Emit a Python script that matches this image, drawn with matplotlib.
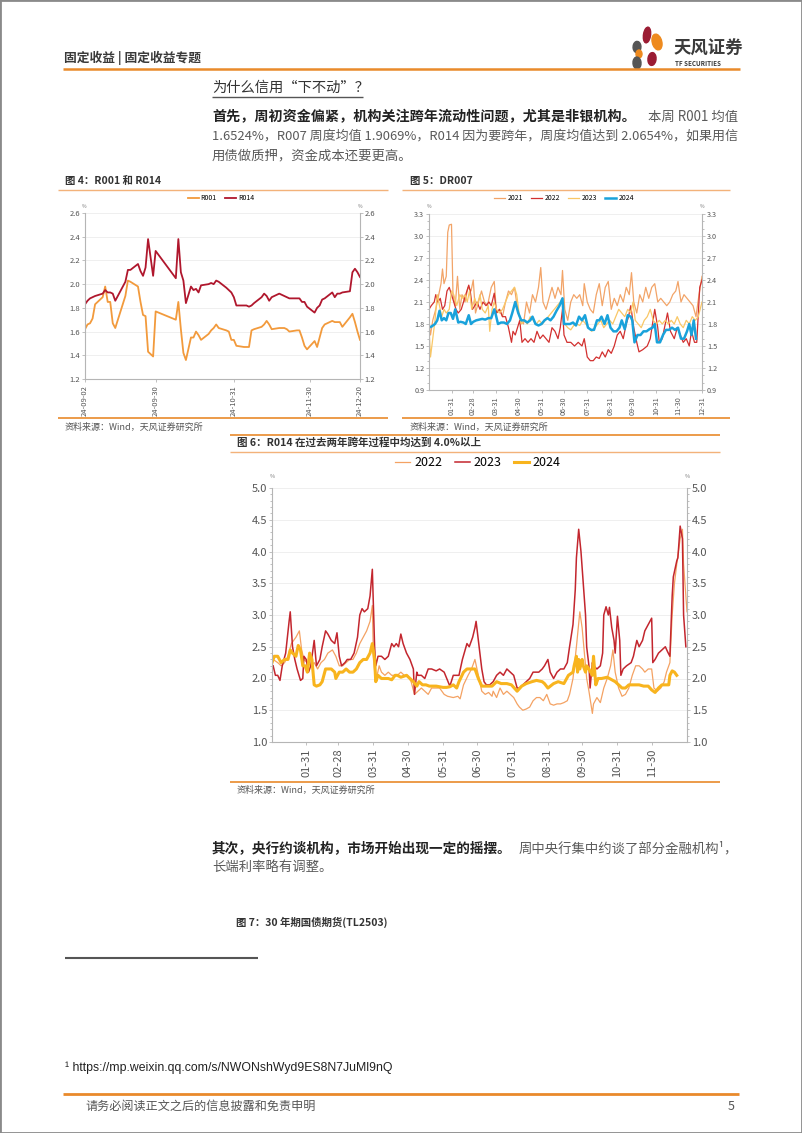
import matplotlib
matplotlib.use('Agg')
import matplotlib.pyplot as plt
from matplotlib.lines import Line2D
from matplotlib.patches import Ellipse, Rectangle
from matplotlib.ticker import MultipleLocator, FormatStrFormatter
import pandas as pd
import numpy as np

plt.rcParams['font.family'] = ['Noto Sans CJK SC', 'DejaVu Sans']
plt.rcParams['axes.unicode_minus'] = False

# ---------------- DATA ----------------
# Chart 4: R001 and R014 (2024 trading days)
dates4 = ['09-02','09-03','09-04','09-05','09-06','09-09','09-10','09-11','09-12','09-13','09-14',
          '09-18','09-19','09-20','09-23','09-24','09-25','09-26','09-27','09-29','09-30',
          '10-08','10-09','10-10','10-11','10-12','10-14','10-15','10-16','10-17','10-18',
          '10-21','10-22','10-23','10-24','10-25','10-28','10-29','10-30','10-31',
          '11-01','11-04','11-05','11-06','11-07','11-08','11-11','11-12','11-13','11-14','11-15',
          '11-18','11-19','11-20','11-21','11-22','11-25','11-26','11-27','11-28','11-29',
          '12-02','12-03','12-04','12-05','12-06','12-09','12-10','12-11','12-12','12-13',
          '12-16','12-17','12-18','12-19','12-20']
r001 = [1.62,1.66,1.67,1.71,1.83,1.89,1.98,1.85,1.85,1.67,1.63,
        1.90,2.03,2.02,1.98,1.85,1.74,1.73,1.43,1.39,1.77,
        1.70,1.85,1.62,1.42,1.36,1.55,1.55,1.60,1.57,1.53,
        1.58,1.61,1.63,1.66,1.63,1.61,1.60,1.53,1.53,
        1.48,1.47,1.47,1.47,1.61,1.62,1.64,1.66,1.69,1.66,1.62,
        1.63,1.63,1.63,1.62,1.60,1.61,1.61,1.55,1.48,1.45,
        1.52,1.47,1.55,1.63,1.66,1.69,1.68,1.68,1.68,1.64,
        1.72,1.75,1.68,1.60,1.53]
r014 = [1.83,1.86,1.88,1.89,1.90,1.92,1.95,1.93,1.93,1.92,1.86,
        2.02,2.12,2.12,2.17,2.11,2.07,2.14,2.38,2.07,2.28,
        2.05,2.38,2.10,2.03,1.84,1.98,1.95,1.96,1.93,1.99,
        2.00,2.01,2.00,2.03,2.02,1.97,1.95,1.93,1.89,
        1.82,1.82,1.82,1.81,1.82,1.84,1.89,1.92,1.90,1.86,1.89,
        1.92,1.91,1.90,1.89,1.88,1.88,1.88,1.85,1.85,1.81,
        1.76,1.80,1.82,1.87,1.88,1.93,1.89,1.92,1.92,1.93,
        1.94,2.10,2.13,2.10,2.06]
ticks4 = ['24-09-02', '24-09-30', '24-10-31', '24-11-30', '24-12-20']

# Chart 5: DR007 by day of year
dr21_day = [1,3,6,10,14,17,19,21,24,26,28,31,33,36,39,42,45,49,53,57,60,63,67,71,75,79,84,88,91,95,
            99,103,107,111,115,119,123,127,131,135,139,143,147,150,153,157,161,165,169,173,177,179,
            182,186,190,194,198,202,206,208,212,216,220,224,228,232,236,240,244,248,252,256,260,264,
            268,271,274,278,282,286,290,294,298,302,306,310,314,318,322,326,330,333,337,341,345,349,
            353,357,361,365]
dr21_val = [1.80,1.65,1.85,2.00,2.20,2.35,2.55,2.35,2.45,3.05,3.15,3.16,2.20,2.05,2.45,2.00,2.20,
            2.10,2.30,2.25,2.40,1.95,2.10,2.25,2.10,2.05,2.30,2.38,1.95,2.00,1.90,2.10,2.25,2.20,
            2.30,2.00,1.85,1.80,2.10,1.95,2.20,2.10,2.30,2.57,2.10,2.00,2.15,2.30,2.15,2.30,2.20,
            2.53,2.00,1.85,2.10,2.20,2.15,2.20,2.05,2.35,2.10,2.00,1.95,2.20,2.35,2.05,2.30,2.38,
            2.00,2.15,2.05,2.20,2.10,2.30,2.20,2.50,2.10,1.95,2.20,2.10,2.30,2.15,2.30,2.35,2.10,
            2.15,2.10,2.05,2.10,2.20,2.25,2.38,2.10,2.20,2.15,2.10,2.05,1.90,2.20,2.45]
dr22_day = [1,4,8,10,13,16,19,22,25,28,31,34,37,40,44,47,50,54,56,59,62,65,69,73,77,81,84,88,91,95,
            99,103,107,111,113,116,119,122,125,129,133,137,141,145,149,153,157,161,165,169,173,176,
            179,181,185,190,195,200,205,208,212,216,220,224,228,232,236,240,244,248,252,256,260,264,
            267,270,274,278,281,286,292,296,299,302,306,308,312,316,319,323,328,332,336,340,344,348,
            351,355,358,362,365]
dr22_val = [2.00,2.05,2.10,2.20,2.10,2.15,2.00,2.05,2.25,2.30,2.20,2.10,2.00,1.95,2.00,2.10,2.20,
            2.33,2.25,2.00,2.05,2.10,2.00,2.10,2.05,2.10,2.05,2.22,1.95,2.00,1.90,1.90,1.75,1.55,
            1.70,1.65,1.75,1.85,1.55,1.60,1.55,1.60,1.55,1.70,1.60,1.65,1.60,1.55,1.75,1.70,1.60,
            1.75,2.00,1.65,1.55,1.55,1.50,1.55,1.50,1.60,1.35,1.30,1.30,1.35,1.33,1.42,1.35,1.45,
            1.40,1.50,1.65,1.70,1.60,1.80,1.90,2.05,1.75,1.55,1.42,1.45,1.50,1.60,1.80,2.00,1.75,
            1.55,1.60,1.80,1.95,1.70,1.60,1.75,1.65,1.55,1.60,1.50,1.70,1.55,1.55,2.30,2.40]
dr23_day = [1,3,6,9,12,15,18,21,24,28,31,34,38,42,45,49,52,55,58,62,65,69,72,76,80,82,85,88,91,95,
            99,103,107,111,115,118,121,124,128,132,136,140,144,148,152,156,160,164,168,172,176,179,
            182,186,190,194,198,202,206,210,214,218,222,226,230,234,238,242,246,250,254,258,262,266,
            270,273,276,280,284,288,292,296,300,304,308,312,316,320,324,328,332,336,340,344,348,352,
            356,360,365]
dr23_val = [1.75,1.35,1.60,1.85,2.20,2.05,1.90,2.00,1.95,2.00,2.25,2.20,2.05,2.20,2.15,2.20,2.10,
            2.25,2.00,2.15,2.05,2.20,2.00,1.95,2.05,1.70,2.00,2.10,2.00,1.95,2.00,2.10,2.20,2.25,
            2.30,2.20,1.95,1.80,1.85,1.80,1.90,1.85,1.80,1.85,1.80,1.85,1.90,1.95,2.00,2.05,2.10,
            2.15,1.80,1.75,1.72,1.78,1.80,1.78,1.85,1.80,1.75,1.70,1.75,1.80,1.85,1.75,1.80,1.85,
            1.80,1.90,2.00,1.95,1.90,2.00,1.95,2.10,1.85,1.80,1.75,1.85,1.90,2.00,1.85,1.80,1.85,
            1.80,1.85,1.80,1.85,1.80,1.90,1.80,1.75,1.85,1.80,1.90,1.85,1.90,2.10]
dr24_day = [1,5,9,12,15,18,21,24,27,30,33,36,40,43,47,50,54,57,60,64,68,72,76,80,84,88,90,93,97,101,
            105,109,112,116,120,124,128,132,136,139,143,147,151,155,159,163,167,171,175,179,181,185,
            189,193,197,201,205,209,213,217,221,225,228,231,235,239,243,247,251,255,258,262,266,270,
            272,275,279,283,287,291,295,299,302,305,309,313,317,321,325,329,333,337,341,345,348,351,
            354,357]
dr24_val = [1.75,1.77,1.80,1.85,1.98,1.85,1.88,1.85,1.95,1.95,1.87,2.00,1.82,1.83,1.82,1.80,1.92,
            1.80,1.83,1.85,1.86,1.87,1.86,1.88,1.88,2.00,1.93,1.80,1.82,1.82,1.80,1.85,1.95,2.10,
            1.95,1.85,1.85,1.82,1.85,1.90,1.80,1.78,1.80,1.85,1.88,1.85,1.90,1.98,2.05,2.15,1.80,
            1.80,1.80,1.82,1.78,1.90,1.85,1.92,1.75,1.72,1.72,1.85,1.85,1.90,1.80,1.92,1.75,1.70,
            1.70,1.75,1.85,1.73,1.92,1.90,1.85,1.55,1.65,1.65,1.70,1.70,1.73,1.75,1.80,1.55,1.55,
            1.65,1.72,1.72,1.75,1.72,1.75,1.60,1.60,1.70,1.80,1.65,1.85,1.60]
ticks5 = ['01-31','02-28','03-31','04-30','05-31','06-30','07-31','08-31','09-30','10-31','11-30','12-31']

# Chart 6: R014 by day of year
r22_day = [2,6,9,12,15,18,22,25,27,29,32,35,38,41,44,47,50,54,57,60,63,66,69,72,75,78,81,84,87,89,
           90,92,95,97,100,103,106,109,111,114,117,120,123,126,129,132,135,138,141,144,148,152,155,
           160,164,166,169,173,176,179,182,185,188,191,194,195,198,201,204,207,210,213,216,218,221,
           224,227,230,233,236,239,242,245,248,251,254,257,260,262,265,268,271,273,275,277,279,282,
           283,286,289,292,295,298,300,302,305,308,311,314,317,320,323,326,328,331,334,336,339,342,
           345,347,350,352,354,356,359,361,362,365]
r22_val = [2.30,2.25,2.20,2.25,2.35,2.55,2.65,2.75,2.45,2.30,2.25,2.20,2.25,2.15,2.25,2.30,2.40,
           2.45,2.35,2.20,2.20,2.25,2.30,2.30,2.40,2.55,2.65,2.75,2.90,3.15,2.30,1.95,2.20,2.10,
           2.05,2.10,2.05,2.05,2.05,2.10,2.05,2.05,1.95,1.75,1.80,1.85,1.80,1.75,1.85,1.85,1.85,
           1.75,1.72,1.70,1.72,1.68,1.90,2.05,2.15,2.30,2.05,1.80,1.75,1.78,1.72,1.80,1.70,1.85,
           1.75,1.80,1.75,1.70,1.60,1.55,1.50,1.52,1.55,1.65,1.70,1.70,1.65,1.75,1.60,1.58,1.60,
           1.60,1.62,1.65,1.75,2.00,2.50,3.05,2.80,2.40,2.00,1.80,1.45,1.60,1.70,1.62,1.85,2.00,
           2.20,2.45,2.10,1.85,1.72,1.75,1.85,2.05,2.20,2.20,2.15,2.10,2.15,2.15,1.85,1.80,1.85,
           1.95,2.10,2.25,3.00,3.50,3.80,4.20,4.35,3.80,3.05]
r23_day = [2,4,6,8,10,13,16,17,19,21,23,26,28,29,31,33,35,38,40,43,45,48,50,53,56,58,60,62,65,67,
           70,73,76,78,80,82,85,87,89,91,92,94,97,100,103,106,108,110,112,114,116,119,122,125,126,
           128,129,132,135,138,141,145,148,152,157,160,163,165,168,172,174,177,179,180,183,185,187,
           189,192,195,198,201,204,207,210,213,216,218,221,224,227,230,235,238,240,243,245,248,251,
           254,257,260,262,265,267,268,270,272,274,276,277,279,280,282,283,286,289,291,292,294,296,
           297,299,301,302,304,306,307,309,312,316,318,321,323,326,328,331,334,335,337,340,343,346,
           348,350,352,353,356,357,359,361,362,364]
r23_val = [2.20,2.05,2.05,1.97,2.20,2.40,2.90,3.05,2.50,2.30,2.15,1.97,2.00,2.35,2.30,2.10,2.20,
           2.60,2.20,2.30,2.50,2.75,2.70,2.60,2.55,2.72,2.35,2.20,2.25,2.30,2.30,2.40,2.65,3.00,
           3.10,3.05,3.10,3.30,3.72,2.50,2.20,2.35,2.35,2.30,2.35,2.55,2.50,2.55,2.50,2.70,2.55,
           2.40,2.30,2.15,1.75,2.10,2.05,2.05,2.00,2.15,2.15,2.12,2.15,2.10,1.88,2.05,2.05,2.05,
           2.30,2.55,2.50,2.65,2.80,2.90,2.45,2.15,1.95,1.90,1.90,1.95,2.05,2.10,2.05,2.15,2.10,
           2.05,1.85,1.85,1.90,1.95,2.00,2.10,2.10,2.15,2.20,2.30,2.10,2.00,2.10,2.15,2.15,2.25,
           2.50,2.85,3.40,3.90,4.35,4.00,3.50,3.00,2.50,2.20,1.85,2.25,2.20,2.15,2.20,2.40,3.00,
           3.13,3.00,3.12,2.80,2.60,2.40,2.98,2.60,2.05,2.15,2.20,2.25,2.35,2.60,2.50,2.60,2.75,
           2.85,2.95,2.25,2.30,2.40,2.45,2.50,2.42,2.35,3.30,3.60,3.85,3.90,4.40,4.20,3.00,2.50]
r24_day = [1,3,6,9,12,15,17,19,22,24,26,28,30,32,34,36,38,40,43,45,48,50,53,56,57,60,63,66,69,72,
           75,78,81,84,87,89,91,92,94,97,100,103,106,109,111,114,119,122,125,128,130,133,136,139,
           142,145,148,151,154,157,160,163,165,169,172,176,179,182,185,189,194,198,202,207,211,216,
           220,224,229,233,238,240,243,248,252,257,261,265,266,268,269,270,271,273,274,276,277,279,
           282,283,285,287,290,295,299,302,305,308,311,314,318,323,327,331,334,337,340,343,346,349,
           350,352,354,356]
r24_val = [2.25,2.35,2.35,2.25,2.30,2.30,2.45,2.40,2.35,2.52,2.45,2.20,2.20,2.10,2.40,2.30,1.90,
           1.88,1.90,1.95,2.15,2.15,2.15,2.10,2.00,2.10,2.10,2.15,2.10,2.10,2.15,2.25,2.30,2.30,
           2.40,2.55,2.30,1.95,2.05,2.00,2.00,2.00,1.98,2.05,2.05,2.02,2.05,2.00,1.95,1.88,1.95,
           1.90,1.90,1.88,1.88,1.88,1.87,1.86,1.86,1.87,1.90,1.85,1.95,2.10,2.15,2.15,2.15,2.00,
           1.88,1.88,1.88,1.95,1.92,1.92,1.90,1.80,1.88,1.92,1.95,1.97,1.95,1.92,1.85,1.92,1.95,
           1.92,2.05,2.10,2.20,2.35,2.10,2.30,2.15,2.30,2.20,2.10,2.20,2.15,2.05,2.35,1.90,2.00,
           2.00,2.02,1.98,1.95,1.90,1.85,1.85,1.90,1.90,1.90,1.88,1.88,1.82,1.78,1.85,1.90,1.90,
           1.90,2.05,2.12,2.10,2.05]
ticks6 = ['01-31','02-28','03-31','04-30','05-31','06-30','07-31','08-31','09-30','10-31','11-30']

# ---------------- FIGURE ----------------
W, H = 802, 1133
fig = plt.figure(figsize=(W / 100, H / 100), dpi=100)
fig.patch.set_facecolor('white')
renderer = fig.canvas.get_renderer()

ORANGE = '#E98A2B'
TXT = '#333333'
GREY = '#5a5a5a'


def fx(x):
    return x / W


def fy(y):
    return 1 - y / H


def T(x, y, s, **kw):
    kw.setdefault('va', 'center')
    kw.setdefault('color', TXT)
    return fig.text(fx(x), fy(y), s, **kw)


def width_px(t):
    return t.get_window_extent(renderer=renderer).width


def fit(t, target):
    """Shrink/grow the font of text t so its width equals target pixels."""
    w = width_px(t)
    t.set_fontsize(t.get_fontsize() * target / w)


def hline(x0, x1, y, color, lw=1.0):
    fig.add_artist(Line2D([fx(x0), fx(x1)], [fy(y), fy(y)], transform=fig.transFigure,
                          color=color, lw=lw, solid_capstyle='butt'))


def add_ax(l, t, r, b):
    return fig.add_axes([fx(l), fy(b), (r - l) / W, (b - t) / H])


def style_axes(ax, ylo, yhi, ystep, yminor, fs):
    ax.set_ylim(ylo, yhi)
    ax.set_yticks(np.round(np.arange(ylo, yhi + 1e-9, ystep), 2))
    ax.yaxis.set_major_formatter(FormatStrFormatter('%.1f'))
    if yminor:
        ax.yaxis.set_minor_locator(MultipleLocator(yminor))
    for s in ['left', 'right', 'bottom']:
        ax.spines[s].set_color('#b5b5b5')
        ax.spines[s].set_linewidth(0.8)
    ax.spines['top'].set_visible(False)
    ax.tick_params(axis='y', which='both', left=True, right=True, labelleft=True, labelright=True,
                   direction='out', colors='#b5b5b5', labelcolor='#555555', labelsize=fs,
                   length=2.5, width=0.6, pad=1)
    ax.tick_params(axis='y', which='minor', length=1.5)
    ax.tick_params(axis='x', which='both', colors='#b5b5b5', labelcolor='#555555', labelsize=fs,
                   length=2.5, width=0.6, labelrotation=90, pad=2)
    ax.grid(axis='y', which='major', color='#ececec', lw=0.6)
    ax.set_axisbelow(True)
    ax.set_facecolor('white')


# page border
fig.add_artist(Rectangle((0, 0), 1, 1, transform=fig.transFigure, fill=False,
                         edgecolor='#8a8a8a', lw=2))

# ---------- header ----------
T(64, 58, '固定收益 | 固定收益专题', fontsize=9.2, fontweight='bold', color='#3a3a3a')
hline(63, 740, 69, ORANGE, 1.8)
petals = [(647, 35, 7, 16, -15, '#9B1C33'), (657, 42, 9, 17, 35, '#EE8A1E'),
          (637, 47, 8, 11, 60, '#555555'), (639, 54, 6, 8, 0, '#EE8A1E'),
          (652, 59, 8, 13, -20, '#9B1C33'), (637, 63, 8, 12, 20, '#555555')]
for (px, py, w, h, ang, c) in petals:
    fig.add_artist(Ellipse((fx(px), fy(py)), w / W, h / H, angle=ang,
                           transform=fig.transFigure, color=c))
T(673, 49, '天风证券', fontsize=12.5, fontweight='bold', color='#3a3a3a')
T(675, 63, 'TF SECURITIES', fontsize=4.5, fontweight='bold', color='#3a3a3a')

# ---------- paragraph 1 ----------
T(212, 88, '为什么信用“下不动”？', fontsize=10.3, color='#333333')
hline(212, 363, 97, '#555555', 1.0)
b1 = T(212, 117, '首先，周初资金偏紧，机构关注跨年流动性问题，尤其是非银机构。', fontsize=10,
       fontweight='bold', color='#222222')
fit(b1, 422)
T(738, 117, '本周 R001 均值', fontsize=9.6, color=GREY, ha='right')
p2 = T(212, 136, '1.6524%，R007 周度均值 1.9069%，R014 因为要跨年，周度均值达到 2.0654%，如果用信',
       fontsize=10, color=GREY)
fit(p2, 526)
T(212, 155, '用债做质押，资金成本还要更高。', fontsize=9.6, color=GREY)

# ---------- chart 4 ----------
T(65, 181, '图 4：R001 和 R014', fontsize=7.5, fontweight='bold', color='#333333')
hline(58, 388, 190, '#F3B27A', 1.0)
hline(58, 388, 418, ORANGE, 1.2)
T(65, 427, '资料来源：Wind，天风证券研究所', fontsize=6.5, color='#555555')

ax4 = add_ax(85, 213, 360, 379)
d4 = pd.to_datetime(['2024-' + d for d in dates4])
l1, = ax4.plot(d4, r001, color='#F29A3C', lw=1.3, label='R001')
l2, = ax4.plot(d4, r014, color='#B0172D', lw=1.3, label='R014')
style_axes(ax4, 1.2, 2.6, 0.2, None, 5.5)
tk4 = pd.to_datetime(['20' + t for t in ticks4])
ax4.set_xticks(tk4)
ax4.set_xticklabels(ticks4)
ax4.set_xlim(tk4[0], tk4[-1])
fig.legend(handles=[l1, l2], loc='center', bbox_to_anchor=(fx(221), fy(198)), ncol=2,
           frameon=False, fontsize=5, handlelength=1.6, handletextpad=0.3, columnspacing=1.2)
T(84, 206, '%', fontsize=3.5, color='#777777', ha='center')
T(360, 206, '%', fontsize=3.5, color='#777777', ha='center')

# ---------- chart 5 ----------
T(410, 181, '图 5：DR007', fontsize=7.5, fontweight='bold', color='#333333')
hline(402, 730, 190, '#F3B27A', 1.0)
hline(402, 730, 418, ORANGE, 1.2)
T(410, 427, '资料来源：Wind，天风证券研究所', fontsize=6.5, color='#555555')

ax5 = add_ax(429, 214, 702, 390)
s21, = ax5.plot(dr21_day, dr21_val, color='#F2A468', lw=0.9, label='2021')
s22, = ax5.plot(dr22_day, dr22_val, color='#D2302F', lw=0.9, label='2022')
s23, = ax5.plot(dr23_day, dr23_val, color='#F9C766', lw=0.9, label='2023')
s24, = ax5.plot(dr24_day, dr24_val, color='#19A2DB', lw=1.8, label='2024')
style_axes(ax5, 0.9, 3.3, 0.3, 0.1, 5.2)
tk5 = [pd.Timestamp('2023-' + t).dayofyear for t in ticks5]
ax5.set_xticks(tk5)
ax5.set_xticklabels(ticks5)
ax5.set_xlim(1, 365)
fig.legend(handles=[s21, s22, s23, s24], loc='center', bbox_to_anchor=(fx(564), fy(198)), ncol=4,
           frameon=False, fontsize=5, handlelength=1.6, handletextpad=0.3, columnspacing=1.2)
T(429, 206, '%', fontsize=3.5, color='#777777', ha='center')
T(702, 206, '%', fontsize=3.5, color='#777777', ha='center')

# ---------- chart 6 ----------
hline(230, 720, 435, ORANGE, 1.2)
T(237, 443, '图 6：R014 在过去两年跨年过程中均达到 4.0%以上', fontsize=7.6, fontweight='bold',
  color='#333333')
hline(230, 720, 452, '#F3B27A', 1.0)
hline(230, 720, 782, ORANGE, 1.2)
T(237, 790, '资料来源：Wind，天风证券研究所', fontsize=6.5, color='#555555')

ax6 = add_ax(272, 488, 687, 742)
c22, = ax6.plot(r22_day, r22_val, color='#F4A263', lw=0.9, label='2022')
c23, = ax6.plot(r23_day, r23_val, color='#C3262E', lw=1.1, label='2023')
c24, = ax6.plot(r24_day, r24_val, color='#F8B41E', lw=2.2, label='2024')
style_axes(ax6, 1.0, 5.0, 0.5, 0.1, 8)
tk6 = [pd.Timestamp('2023-' + t).dayofyear for t in ticks6]
ax6.set_xticks(tk6)
ax6.set_xticklabels(ticks6)
ax6.set_xlim(1, 365)
fig.legend(handles=[c22, c23, c24], loc='center', bbox_to_anchor=(fx(478), fy(463)), ncol=3,
           frameon=False, fontsize=9, handlelength=1.2, handletextpad=0.3, columnspacing=1.0)
T(272, 477, '%', fontsize=4, color='#777777', ha='center')
T(687, 477, '%', fontsize=4, color='#777777', ha='center')

# ---------- paragraph 2 ----------
T(212, 848, '其次，央行约谈机构，市场开始出现一定的摇摆。', fontsize=9.8, fontweight='bold',
  color='#222222')
T(738, 848, '周中央行集中约谈了部分金融机构¹，', fontsize=9.6, color=GREY, ha='right')
T(212, 867, '长端利率略有调整。', fontsize=9.6, color=GREY)

T(236, 922, '图 7：30 年期国债期货(TL2503)', fontsize=7.5, fontweight='bold', color='#333333')

# ---------- footnote & footer ----------
hline(65, 258, 958, '#555555', 1.5)
T(65, 1068, '¹ https://mp.weixin.qq.com/s/NWONshWyd9ES8N7JuMl9nQ', fontsize=8.8,
  color='#222222', family=['Liberation Sans', 'DejaVu Sans'])
hline(63, 739, 1094, ORANGE, 2.0)
T(85, 1106, '请务必阅读正文之后的信息披露和免责申明', fontsize=8.7, color='#555555')
T(731, 1106, '5', fontsize=9, color='#555555', ha='center')

fig.savefig('out.png', dpi=100, facecolor='white')
